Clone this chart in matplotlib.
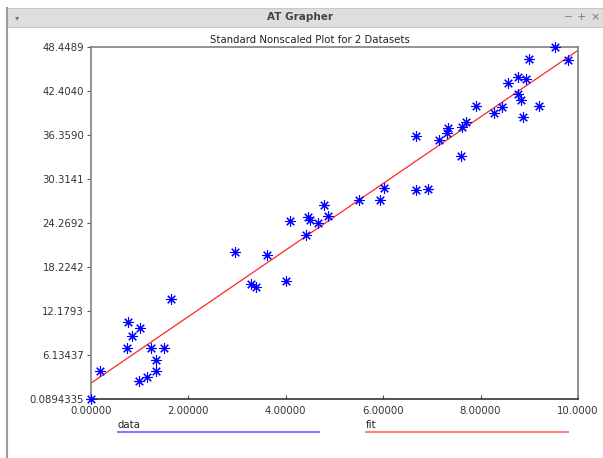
import numpy as np
import matplotlib.pyplot as plt
from matplotlib.lines import Line2D
from matplotlib.patches import Rectangle

# measured points (x, y)
data_x = [0.00, 0.19, 0.75, 0.85, 1.00, 0.74, 1.23, 1.50, 1.34, 1.33, 1.16, 0.99, 1.64,
          2.96, 3.62, 3.28, 3.38, 4.00, 4.09, 4.41, 4.46, 4.49, 4.67, 4.78, 4.87,
          7.69, 7.62, 7.34, 7.30, 7.15, 6.67, 7.59, 6.01, 6.67, 6.93, 5.51, 5.94,
          9.53, 9.80, 8.99, 8.56, 8.76, 8.94, 8.76, 8.83, 9.20, 7.90, 8.27, 8.43, 8.87]
data_y = [0.0894335, 3.98, 10.72, 8.79, 9.89, 7.10, 7.06, 7.10, 5.41, 3.98, 3.11, 2.52, 13.88,
          20.34, 19.88, 15.86, 15.53, 16.31, 24.52, 22.63, 25.07, 24.70, 24.24, 26.71, 25.24,
          38.20, 37.52, 37.30, 36.61, 35.69, 36.20, 33.49, 29.13, 28.78, 28.91, 27.44, 27.44,
          48.4489, 46.68, 46.82, 43.49, 44.26, 44.03, 41.97, 41.19, 40.41, 40.41, 39.44, 40.27, 38.81]

xmin, xmax = 0.0, 10.0
ymin, ymax = min(data_y), max(data_y)

# straight line fit
slope, intercept = np.polyfit(data_x, data_y, 1)
fit_x = np.array([xmin, xmax])
fit_y = intercept + slope * fit_x

W, H = 603, 458
fig = plt.figure(figsize=(W / 100, H / 100), dpi=100)
fig.patch.set_facecolor('white')

def fx(px):
    return px / W

def fy(py):
    return 1 - py / H

# window frame
fig.add_artist(Rectangle((fx(7), fy(27)), fx(596), 19 / H, transform=fig.transFigure,
                         facecolor='#dedede', edgecolor='#c8c8c8', lw=0.8))
fig.add_artist(Line2D([fx(7), fx(7)], [0, fy(8)], transform=fig.transFigure, color='#9a9a9a', lw=1.5))
fig.text(fx(300), fy(17.5), 'AT Grapher', ha='center', va='center', fontsize=7.5,
         fontweight='bold', color='#444444')
fig.text(fx(17), fy(17.5), '\u25be', ha='center', va='center', fontsize=6, color='#777777')
fig.text(fx(568), fy(17), '\u2212', ha='center', va='center', fontsize=7.5, color='#777777')
fig.text(fx(581), fy(17), '+', ha='center', va='center', fontsize=8, color='#777777')
fig.text(fx(595), fy(17), '\u00d7', ha='center', va='center', fontsize=8, color='#777777')

ax = fig.add_axes([fx(91), fy(399), fx(578 - 91), (399 - 47) / H])
ax.plot(fit_x, fit_y, color='#ff0000', lw=0.9, alpha=0.85, zorder=2)
ax.plot(data_x, data_y, linestyle='none', marker=(8, 2, 0), markersize=7.5, mew=0.8,
        color='#0000ff', clip_on=False, zorder=3)

ax.set_xlim(xmin, xmax)
ax.set_ylim(ymin, ymax)
ax.set_xticks(np.linspace(xmin, xmax, 6))
ax.set_yticks(np.linspace(ymin, ymax, 9))
ax.set_xticklabels(['%#.6g' % v for v in np.linspace(xmin, xmax, 6)])
ax.set_yticklabels(['%#.6g' % v for v in np.linspace(ymin, ymax, 9)])
ax.tick_params(axis='y', direction='out', length=3, width=0.8, color='#555555',
               labelsize=7.3, labelcolor='#333333', pad=2)
ax.tick_params(axis='x', direction='in', length=3, width=0.8, color='#555555',
               labelsize=7.3, labelcolor='#333333', pad=5)
for side in ['left', 'top', 'right']:
    ax.spines[side].set_color('#808080')
    ax.spines[side].set_linewidth(1.2)
ax.spines['bottom'].set_color('#333333')
ax.spines['bottom'].set_linewidth(1.2)

fig.text(fx(310), fy(40), 'Standard Nonscaled Plot for 2 Datasets', ha='center',
         va='center', fontsize=7.3, color='#222222')

# legend underneath
fig.text(fx(118), fy(430), 'data', ha='left', va='bottom', fontsize=7.3, color='#222222')
fig.add_artist(Line2D([fx(118), fx(319)], [fy(432), fy(432)], transform=fig.transFigure,
                      color='#7f7fff', lw=1.5))
fig.text(fx(366), fy(430), 'fit', ha='left', va='bottom', fontsize=7.3, color='#222222')
fig.add_artist(Line2D([fx(366), fx(568)], [fy(432), fy(432)], transform=fig.transFigure,
                      color='#ff7f7f', lw=1.5))

fig.savefig('out.png', dpi=100)
